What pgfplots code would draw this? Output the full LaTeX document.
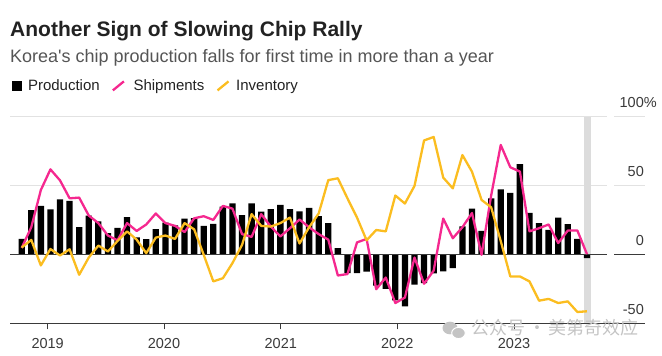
\documentclass[border=0pt]{standalone}
\usepackage{pgfplots}
\pgfplotsset{compat=1.18}
\usepackage{pgfplotstable}
\usepackage{fontspec}
\setmainfont{Liberation Sans}
\newfontfamily\cjk{Noto Sans CJK SC}
\definecolor{pinkc}{HTML}{F5288F}
\definecolor{yellowc}{HTML}{FBBD20}
\definecolor{gridc}{HTML}{E2E2E2}
\definecolor{axisc}{HTML}{3A3A3A}
\definecolor{titlec}{HTML}{222222}
\definecolor{subc}{HTML}{555555}
\definecolor{bandc}{HTML}{DCDCDC}
\definecolor{wmc}{HTML}{C4C4C4}

\pgfplotstableread{
i prod ship inv
0 11.6 5 5.3
1 32.4 20 10.8
2 35.5 47 -7.7
3 32.9 62 4.2
4 40.3 54 -0.5
5 39.1 41 4
6 20 41.5 -14.5
7 28.5 28.5 -2
8 24.2 23 6.7
9 15.7 14 2.4
10 19.6 10.5 10
11 27.3 23 17
12 12.6 17.3 11
13 11.4 22 1.2
14 18.6 30 12.5
15 23.3 23 14
16 21.3 21 11.5
17 26.2 16.5 23
18 26.6 26.5 18.5
19 21 28 0
20 22.4 25.3 -19.3
21 35 35.5 -17
22 37.3 33.5 -6
23 28.8 15 7.2
24 37.4 13 29.5
25 31.3 29.5 21
26 33.2 20.5 20.5
27 36.2 13.3 23
28 33.1 19.3 27
29 31.5 25.6 8.2
30 34 20 20
31 28 15 30
32 22.9 11 54.2
33 4.8 -15 55.5
34 -13.3 -14 41
35 -13.3 9 27
36 -12.3 11.5 10.5
37 -22.4 -25 18
38 -24.8 -16.5 17
39 -33 -35 43
40 -37.4 -31 37.2
41 -21.7 -2 50
42 -20.5 -21 83
43 -13.5 -11.5 85.5
44 -12 26.3 56
45 -9.6 12 48.2
46 20.7 20 72.4
47 33.5 30.3 60.3
48 17.4 0 39.8
49 41 43 34.5
50 47.5 79.7 10
51 45 63.5 -15.7
52 65.8 60.4 -15.7
53 30.4 17 -19.3
54 22.9 19.3 -33.3
55 18 22 -32
56 27 8.5 -35
57 22.2 17.6 -33.8
58 11.5 17.6 -41.5
59 -2.4 0.5 -41
}\data

\begin{document}
\begin{tikzpicture}[
  ylbl/.style={anchor=base east, inner sep=0pt, yshift=9.3pt, text=axisc, font=\fontsize{14.5}{17}\selectfont},
  xlbl/.style={anchor=base, inner sep=0pt, yshift=-24.6pt, text=axisc, font=\fontsize{14.5}{17}\selectfont}]
\useasboundingbox (0pt,0pt) rectangle (662pt,356pt);
\node[anchor=base west, inner sep=0pt, text=titlec, font=\fontsize{21}{25}\selectfont\bfseries] at (10pt,319.3pt) {Another Sign of Slowing Chip Rally};
\node[anchor=base west, inner sep=0pt, text=subc, font=\fontsize{18}{21}\selectfont] at (10pt,293.5pt) {Korea\textquotesingle s chip production falls for first time in more than a year};
\begin{axis}[at={(10pt,32.3pt)}, anchor=south west, scale only axis,
  width=596.7pt, height=206.7pt,
  xmin=-1.22, xmax=61.06, ymin=-50, ymax=100, clip=false,
  axis line style={draw=none},
  ytick=\empty,
  xtick={2.71,14.85,27.04,39.2,51.39}, xticklabels={},
  xtick pos=lower, tick align=outside, major tick length=5.6pt,
  tick style={axisc, line width=0.9pt},
  legend columns=-1,
  legend style={at={(axis description cs:0.00285,1.149)}, anchor=west, draw=none, fill=none,
    inner sep=0pt, outer sep=0pt, font=\fontsize{15}{18}\selectfont,
    nodes={inner sep=0pt, anchor=base west, text=titlec},
    /tikz/every even column/.append style={column sep=12pt}},
]
% gridlines
\draw[gridc, line width=1pt] (axis cs:-1.22,100) -- (axis cs:61.06,100);
\draw[gridc, line width=1pt] (axis cs:-1.22,50) -- (axis cs:61.06,50);
\draw[gridc, line width=1pt] (axis cs:61.83,100) -- (axis cs:65.06,100);
\draw[gridc, line width=1pt] (axis cs:61.83,50) -- (axis cs:65.06,50);
% highlight band
\fill[bandc] (axis cs:58.69,-50) rectangle (axis cs:59.42,100);
% bars
\addplot[ybar, bar width=6.3pt, fill=black, draw=none,
  legend image code/.code={\fill[black] (0pt,0pt) rectangle (10pt,10pt); \path (16.3pt,0pt);}]
  table[x=i, y=prod]{\data};
\addlegendentry{Production}
% zero line and axis line
\draw[axisc, line width=1pt] (axis cs:-1.22,0) -- (axis cs:61.06,0);
\draw[axisc, line width=1pt] (axis cs:61.83,0) -- (axis cs:65.06,0);
\draw[axisc, line width=1pt] (axis cs:-1.22,-50) -- (axis cs:65.06,-50);
\addplot[pinkc, line width=2.3pt, line join=round, no marks,
  legend image code/.code={\draw[pinkc, line width=2.3pt] (0.5pt,0.5pt) -- (11.5pt,9.5pt); \path (20pt,0pt);}]
  table[x=i, y=ship]{\data};
\addlegendentry{Shipments}
\addplot[yellowc, line width=2.3pt, line join=round, no marks,
  legend image code/.code={\draw[yellowc, line width=2.3pt] (0.5pt,0.5pt) -- (11.5pt,9.5pt); \path (18pt,0pt);}]
  table[x=i, y=inv]{\data};
\addlegendentry{Inventory}
% y labels (right)
\node[ylbl] at (axis cs:64.96,100) {100\rlap{\%}};
\node[ylbl] at (axis cs:64.96,50) {50};
\node[ylbl] at (axis cs:64.96,0) {0};
\node[ylbl] at (axis cs:64.96,-50) {-50};
% x labels
\node[xlbl] at (axis cs:2.71,-50) {2019};
\node[xlbl] at (axis cs:14.85,-50) {2020};
\node[xlbl] at (axis cs:27.04,-50) {2021};
\node[xlbl] at (axis cs:39.2,-50) {2022};
\node[xlbl] at (axis cs:51.39,-50) {2023};
\end{axis}
% watermark
\fill[wmc] (450pt,28pt) ellipse (7.5pt and 6.3pt);
\fill[wmc, draw=white, line width=1pt] (458.5pt,23pt) ellipse (6.8pt and 5.6pt);
\node[anchor=base west, inner sep=0pt, text=wmc, font=\cjk\fontsize{18}{21}\selectfont] at (471.7pt,21.5pt) {公众号\makebox[22.6pt]{·}美第奇效应};
\end{tikzpicture}
\end{document}
